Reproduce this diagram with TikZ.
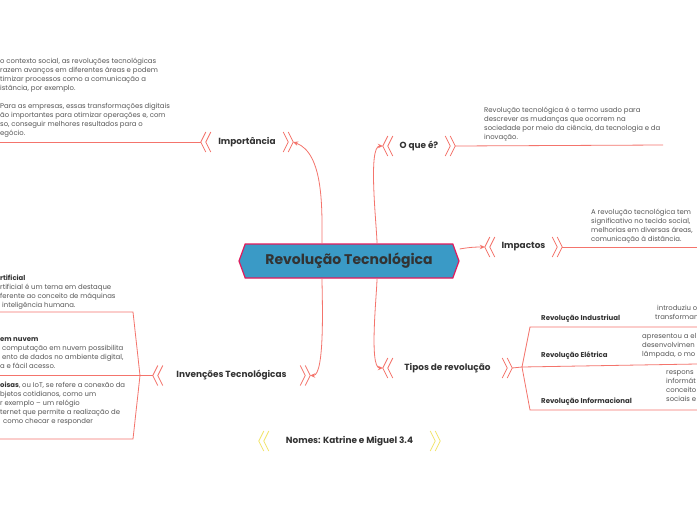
\documentclass[tikz,border=0pt]{standalone}
\usepackage{fontspec}
\setmainfont{Poppins}
\usetikzlibrary{arrows.meta,shapes.symbols}
\definecolor{mmred}{HTML}{F4746C}
\definecolor{mmrim}{HTML}{E2195B}
\definecolor{mmblue}{HTML}{3A9AC6}
\definecolor{mmdark}{HTML}{333333}
\definecolor{mmgray}{HTML}{555555}
\definecolor{mmyellow}{HTML}{F2E56E}
\tikzset{
  mroot/.style   = {signal, signal to=west and east, signal pointer angle=140,
                    draw=mmrim, line width=1.2pt, fill=mmblue, inner sep=0pt,
                    minimum width=220pt, minimum height=34pt,
                    font=\fontsize{14}{16}\selectfont\bfseries\color{mmdark}},
  mtopic/.style  = {rectangle, inner sep=0pt, minimum height=20pt,
                    font=\fontsize{8.9}{10}\selectfont\bfseries\color{mmdark}},
  msub/.style    = {anchor=west, inner sep=0pt,
                    font=\fontsize{7}{8}\selectfont\bfseries\color{mmdark}},
  mnote/.style   = {anchor=north west, inner sep=0pt, align=left,
                    font=\fontsize{6.9}{9}\selectfont\color{mmgray}},
  mline/.style   = {draw=mmred, line width=0.8pt},
  marrow/.style  = {mline, -{Stealth[length=5pt,width=4.5pt]}},
  chevl/.pic     = {\draw[line width=0.8pt] (5,10) -- (0,0) -- (5,-10) (10,10) -- (5,0) -- (10,-10);},
  chevr/.pic     = {\draw[line width=0.8pt] (-5,10) -- (0,0) -- (-5,-10) (-10,10) -- (-5,0) -- (-10,-10);},
}

\begin{document}
\begin{tikzpicture}[x=1pt,y=1pt]
\useasboundingbox[fill=white] (0,0) rectangle (697,-520);
% central topic and main topics
\node[mroot] (root) at (349,-261) {Revolução Tecnológica};
\node[mtopic, minimum width=92pt]  (imp)   at (247,-142)   {Importância};
\node[mtopic, minimum width=72pt]  (oque)  at (419,-146)   {O que é?};
\node[mtopic, minimum width=77pt]  (impc)  at (523.5,-247) {Impactos};
\node[mtopic, minimum width=129pt] (tipos) at (447.5,-368) {Tipos de revolução};
\node[mtopic, minimum width=157pt] (inv)   at (231.5,-375.5) {Invenções Tecnológicas};
\node[mtopic, minimum width=181pt] (nomes) at (349.5,-441) {Nomes: Katrine e Miguel 3.4};
\foreach \t in {imp,oque,impc,tipos,inv} {
  \pic[mmred] at (\t.west) {chevl};
  \pic[mmred] at (\t.east) {chevr};
}
\pic[mmyellow] at (nomes.west) {chevl};
\pic[mmyellow] at (nomes.east) {chevr};

% connectors from the centre
\draw[marrow] ([xshift=-27pt]root.north) to[out=90,in=-20,looseness=0.8] (imp.east);
\draw[marrow] ([xshift=28pt]root.north) to[out=90,in=180,looseness=0.4] (oque.west);
\draw[marrow] ([yshift=12pt]root.east) to[out=10,in=180] (impc.west);
\draw[marrow] ([xshift=28pt]root.south) to[out=-90,in=180,looseness=0.4] (tipos.west);
\draw[marrow] ([xshift=-27pt]root.south) to[out=-90,in=0,looseness=0.4] (inv.east);

% free ends of the topic lines
\coordinate (impend)  at (0,-142);
\coordinate (oqueend) at (663,-145);
\coordinate (impcend) at (697,-247);
\draw[mline] (imp.west) -- (impend);
\draw[mline] (oque.east) -- (oqueend);
\draw[mline] (impc.east) -- (impcend);

% notes of the main topics
\node[mnote] (impnote) at (0,-58) {o contexto social, as revoluções tecnológicas\\
  razem avanços em diferentes áreas e podem\\timizar processos como a comunicação a\\
  istância, por exemplo.\\[9pt]Para as empresas, essas transformações digitais\\
  ão importantes para otimizar operações e, com\\so, conseguir melhores resultados para o\\egócio.};
\node[mnote] (oquenote) at (484,-107) {Revolução tecnológica é o termo usado para\\
  descrever as mudanças que ocorrem na\\sociedade por meio da ciência, da tecnologia e da\\inovação.};
\node[mnote] (impcnote) at (591,-209) {A revolução tecnológica tem\\significativo no tecido social,\\
  melhorias em diversas áreas,\\comunicação à distância.};

% Tipos de revolução: branches
\coordinate (tfork)   at (522,-367);
\coordinate (tind)    at (530,-327);
\coordinate (tindend) at (697,-327);
\coordinate (teleend) at (697,-364);
\coordinate (tinf)    at (530,-410);
\coordinate (tinfend) at (697,-410);
\draw[mline] (tipos.east) -- (tfork) -- (tind) -- (tindend);
\draw[mline] (tfork) -- (teleend);
\draw[mline] (tfork) -- (tinf) -- (tinfend);
\node[msub] (rind) at (541,-319) {Revolução Industriual};
\node[msub] (rele) at (541,-356) {Revolução Elétrica};
\node[msub] (rinf) at (541,-402) {Revolução Informacional};
\node[mnote] (rindnote) at (655,-305) {\hspace{2pt}introduziu o\\transforman};
\node[mnote] (relenote) at (642,-333) {apresentou a el\\desenvolvimen\\lâmpada, o mo};
\node[mnote] (rinfnote) at (666,-370) {respons\\informát\\conceito\\sociais e};

% Invenções Tecnológicas: branches
\coordinate (ifork)   at (140,-375.5);
\coordinate (iia)     at (133,-312);
\coordinate (iiaend)  at (0,-312);
\coordinate (inuvend) at (0,-375.5);
\coordinate (iiot)    at (133,-439);
\coordinate (iiotend) at (0,-439);
\draw[mline] (inv.west) -- (ifork) -- (iia) -- (iiaend);
\draw[mline] (ifork) -- (inuvend);
\draw[mline] (ifork) -- (iiot) -- (iiotend);
\node[mnote] (ianote) at (0,-275) {{\bfseries\color{mmdark}rtificial}\\rtificial é um tema em destaque\\
  ferente ao conceito de máquinas\\\hspace{2pt}inteligência humana.};
\node[mnote] (nuvnote) at (0,-337) {{\bfseries\color{mmdark}em nuvem}\\\hspace{2pt}computação em nuvem possibilita\\
  \hspace{2pt}ento de dados no ambiente digital,\\a e fácil acesso.};
\node[mnote] (iotnote) at (0,-382) {{\bfseries\color{mmdark}oisas}, ou IoT, se refere a conexão da\\
  bjetos cotidianos, como um\\r exemplo – um relógio\\ternet que permite a realização de\\
  \hspace{3pt}como checar e responder};
\end{tikzpicture}
\end{document}
